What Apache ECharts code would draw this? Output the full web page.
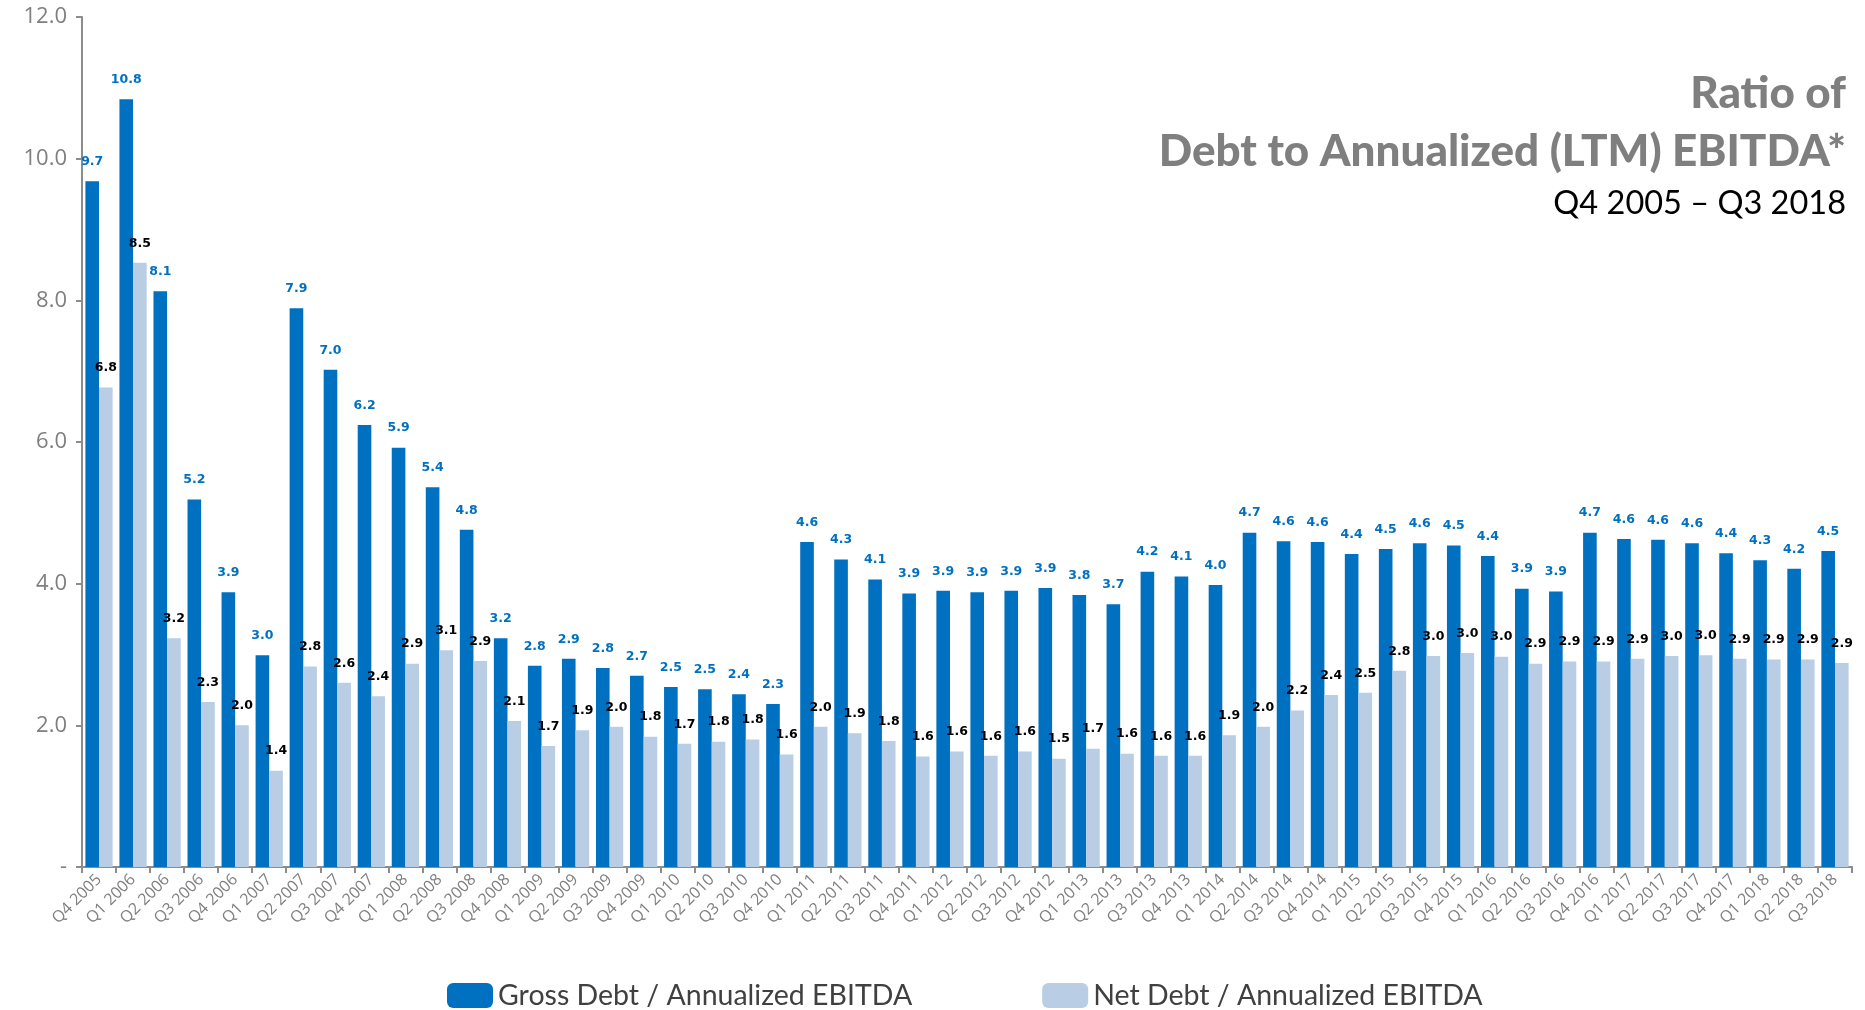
<!DOCTYPE html>
<html>
<head>
<meta charset="utf-8">
<title>Ratio of Debt to Annualized (LTM) EBITDA</title>
<script src="https://cdn.jsdelivr.net/npm/echarts@6/dist/echarts.min.js"></script>
<style>
  html, body { margin: 0; padding: 0; background: #fff; }
  #chart { width: 1865px; height: 1010px; }
</style>
</head>
<body>
<div id="chart"></div>
<script>
// quarters on the x axis
const quarters = [
  "Q4 2005",
  "Q1 2006", "Q2 2006", "Q3 2006", "Q4 2006",
  "Q1 2007", "Q2 2007", "Q3 2007", "Q4 2007",
  "Q1 2008", "Q2 2008", "Q3 2008", "Q4 2008",
  "Q1 2009", "Q2 2009", "Q3 2009", "Q4 2009",
  "Q1 2010", "Q2 2010", "Q3 2010", "Q4 2010",
  "Q1 2011", "Q2 2011", "Q3 2011", "Q4 2011",
  "Q1 2012", "Q2 2012", "Q3 2012", "Q4 2012",
  "Q1 2013", "Q2 2013", "Q3 2013", "Q4 2013",
  "Q1 2014", "Q2 2014", "Q3 2014", "Q4 2014",
  "Q1 2015", "Q2 2015", "Q3 2015", "Q4 2015",
  "Q1 2016", "Q2 2016", "Q3 2016", "Q4 2016",
  "Q1 2017", "Q2 2017", "Q3 2017", "Q4 2017",
  "Q1 2018", "Q2 2018", "Q3 2018",
];

// Gross Debt / Annualized EBITDA
const grossDebt = [
  9.68,
  10.84, 8.13, 5.19, 3.88,
  2.99, 7.89, 7.02, 6.24,
  5.92, 5.36, 4.76, 3.23,
  2.84, 2.94, 2.81, 2.70,
  2.54, 2.51, 2.44, 2.30,
  4.59, 4.34, 4.06, 3.86,
  3.90, 3.88, 3.90, 3.94,
  3.84, 3.71, 4.17, 4.10,
  3.98, 4.72, 4.60, 4.59,
  4.42, 4.49, 4.57, 4.54,
  4.39, 3.93, 3.89, 4.72,
  4.63, 4.62, 4.57, 4.43,
  4.33, 4.21, 4.46,
];

// Net Debt / Annualized EBITDA
const netDebt = [
  6.77,
  8.53, 3.23, 2.33, 2.00,
  1.36, 2.83, 2.60, 2.41,
  2.87, 3.06, 2.91, 2.06,
  1.71, 1.93, 1.98, 1.84,
  1.74, 1.77, 1.80, 1.59,
  1.98, 1.89, 1.78, 1.56,
  1.63, 1.57, 1.63, 1.53,
  1.67, 1.60, 1.57, 1.57,
  1.86, 1.98, 2.21, 2.43,
  2.46, 2.77, 2.98, 3.02,
  2.97, 2.87, 2.90, 2.90,
  2.94, 2.98, 2.99, 2.94,
  2.93, 2.93, 2.88,
];

const seriesNames = ["Gross Debt / Annualized EBITDA", "Net Debt / Annualized EBITDA"];
const titleLines = ["Ratio of", "Debt to Annualized (LTM) EBITDA*", "Q4 2005 \u2013 Q3 2018"];

const GREY = "#7f7f7f";
const AXIS = "#8c8c8c";

const chart = echarts.init(document.getElementById("chart"));

function barLabel(color) {
  return {
    show: true,
    position: "top",
    distance: 13,
    color: color,
    fontFamily: "DejaVu Sans",
    fontWeight: "bold",
    fontSize: 12.5,
    formatter: (p) => p.value.toFixed(1),
  };
}

const option = {
  backgroundColor: "#fff",
  animation: false,
  title: [
    {
      text: titleLines[0],
      right: 14,
      top: 67,
      textStyle: { color: GREY, fontFamily: "Lato", fontWeight: 900, fontSize: 44 },
    },
    {
      text: titleLines[1],
      right: 14,
      top: 125,
      textStyle: { color: GREY, fontFamily: "Lato", fontWeight: 900, fontSize: 44 },
    },
    {
      text: titleLines[2],
      right: 14,
      top: 182,
      textStyle: { color: "#000", fontFamily: "Lato", fontWeight: "normal", fontSize: 32.5 },
    },
  ],
  legend: {
    left: 442,
    top: 976,
    itemWidth: 46,
    itemHeight: 25,
    itemGap: 130,
    icon: "roundRect",
    textStyle: { color: "#404040", fontFamily: "Lato", fontSize: 28.5, padding: [0, 0, 0, 0] },
    data: seriesNames,
  },
  grid: { left: 82, right: 13, top: 17, bottom: 143, containLabel: false },
  xAxis: {
    type: "category",
    data: quarters,
    axisLine: { lineStyle: { color: AXIS, width: 2 } },
    axisTick: { show: true, length: 6, lineStyle: { color: AXIS, width: 2 } },
    axisLabel: {
      rotate: 45,
      interval: 0,
      margin: 10,
      color: GREY,
      fontFamily: "Open Sans",
      fontSize: 16,
    },
  },
  yAxis: {
    type: "value",
    min: 0,
    max: 12,
    interval: 2,
    splitLine: { show: false },
    axisLine: { show: true, lineStyle: { color: AXIS, width: 2 } },
    axisTick: { show: true, length: 6, lineStyle: { color: AXIS, width: 2 } },
    axisLabel: {
      margin: 15,
      color: GREY,
      fontFamily: "Open Sans",
      fontSize: 22,
      formatter: (v) => (v === 0 ? "-" : v.toFixed(1)),
    },
  },
  series: [
    {
      name: seriesNames[0],
      type: "bar",
      data: grossDebt,
      barGap: "0%",
      barCategoryGap: "20%",
      itemStyle: { color: "#0070C0" },
      label: barLabel("#0070C0"),
    },
    {
      name: seriesNames[1],
      type: "bar",
      data: netDebt,
      itemStyle: { color: "#B9CDE5" },
      label: barLabel("#000000"),
    },
  ],
};

chart.setOption(option);
</script>
</body>
</html>
